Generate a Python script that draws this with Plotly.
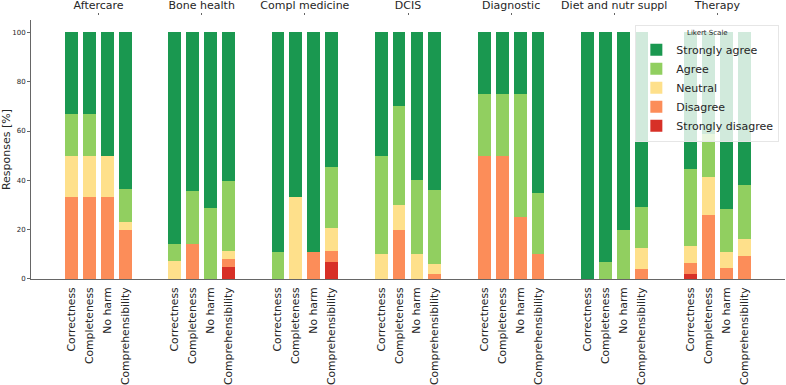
import plotly.graph_objects as go

topics = ["Aftercare", "Bone health", "Compl medicine", "DCIS", "Diagnostic",
          "Diet and nutr suppl", "Therapy"]
criteria = ["Correctness", "Completeness", "No harm", "Comprehensibility"]

# values per topic, each list = [Correctness, Completeness, No harm, Comprehensibility]
strongly_disagree = [
    [0, 0, 0, 0],
    [0, 0, 0, 5.0],
    [0, 0, 0, 6.8],
    [0, 0, 0, 0],
    [0, 0, 0, 0],
    [0, 0, 0, 0],
    [2.2, 0, 0, 0],
]
disagree = [
    [33.3, 33.3, 33.3, 20.0],
    [0, 14.3, 0, 3.2],
    [0, 0, 11.1, 4.6],
    [0, 20.0, 0, 2.0],
    [50.0, 50.0, 25.0, 10.0],
    [0, 0, 0, 4.2],
    [4.4, 26.1, 4.6, 9.2],
]
neutral = [
    [16.7, 16.7, 16.7, 3.3],
    [7.1, 0, 0, 3.0],
    [0, 33.3, 0, 9.1],
    [10.0, 10.0, 10.0, 4.0],
    [0, 0, 0, 0],
    [0, 0, 0, 8.3],
    [6.7, 15.2, 6.2, 7.0],
]
agree = [
    [16.7, 16.7, 0, 13.3],
    [7.1, 21.4, 28.6, 28.6],
    [11.1, 0, 0, 25.0],
    [40.0, 40.0, 30.0, 30.0],
    [25.0, 25.0, 50.0, 25.0],
    [0, 6.7, 20.0, 16.7],
    [31.1, 17.4, 17.6, 22.0],
]
strongly_agree = [
    [33.3, 33.3, 50.0, 63.4],
    [85.8, 64.3, 71.4, 60.2],
    [88.9, 66.7, 88.9, 54.5],
    [50.0, 30.0, 60.0, 64.0],
    [25.0, 25.0, 25.0, 65.0],
    [100.0, 93.3, 80.0, 70.8],
    [55.6, 41.3, 71.6, 61.8],
]

levels = ["Strongly disagree", "Disagree", "Neutral", "Agree", "Strongly agree"]
level_values = [strongly_disagree, disagree, neutral, agree, strongly_agree]
colors = ["#d73027", "#fc8d59", "#fee08b", "#91cf60", "#1a9850"]

GROUP_STEP = 5.75
xs, xlabels = [], []
for g, t in enumerate(topics):
    for k, c in enumerate(criteria):
        xs.append(g * GROUP_STEP + k)
        xlabels.append(c)
group_centers = [g * GROUP_STEP + 1.5 for g in range(len(topics))]

FONT = "DejaVu Sans"
TXT = "#262626"
fig = go.Figure()
for name, vals, col in zip(levels, level_values, colors):
    flat = [v for row in vals for v in row]
    fig.add_trace(go.Bar(x=xs, y=flat, name=name, marker=dict(color=col, line=dict(width=0)),
                         width=0.72))

# invisible trace for top axis
fig.add_trace(go.Scatter(x=group_centers, y=[0]*len(group_centers), xaxis="x2",
                         mode="markers", marker=dict(opacity=0), showlegend=False,
                         hoverinfo="skip"))

xmin = -2.27
xmax = (len(topics) - 1) * GROUP_STEP + 3 + 2.27
fig.update_layout(
    width=786, height=385,
    barmode="stack",
    bargap=0,
    plot_bgcolor="white", paper_bgcolor="white",
    margin=dict(l=31, r=1, t=15, b=106, autoexpand=False),
    font=dict(family=FONT, color=TXT),
    xaxis=dict(range=[xmin, xmax], tickmode="array", tickvals=xs, ticktext=xlabels,
               tickangle=-90, tickfont=dict(size=10.8, family=FONT, color=TXT),
               showline=True, linecolor="#666", linewidth=1,
               ticks="outside", ticklen=3, tickcolor="rgba(0,0,0,0)",
               showgrid=False, zeroline=False, automargin=False),
    xaxis2=dict(range=[xmin, xmax], overlaying="x", side="top", anchor="free", position=1,
                tickmode="array", tickvals=group_centers, ticktext=topics,
                tickfont=dict(size=11, family=FONT, color=TXT),
                ticks="outside", ticklen=2, tickcolor="#666", showline=False,
                showgrid=False, zeroline=False, automargin=False),
    yaxis=dict(range=[0, 105], domain=[0, 0.981], tickmode="array",
               tickvals=[0, 20, 40, 60, 80, 100], ticktext=["0", "20", "40", "60", "80", "100"],
               tickfont=dict(size=7, family=FONT, color=TXT),
               ticks="outside", ticklen=3, tickcolor="#666",
               showline=True, linecolor="#666", linewidth=1, showgrid=False, zeroline=False,
               automargin=False,
               title=dict(text="Responses [%]", font=dict(size=11, family=FONT, color=TXT),
                          standoff=2)),
    legend=dict(x=0.9925, xanchor="right", y=0.962, yanchor="top",
                traceorder="reversed",
                bgcolor="rgba(255,255,255,0.8)", bordercolor="#e6e6e6", borderwidth=1,
                font=dict(size=11, family=FONT, color=TXT),
                title=dict(text="Likert Scale", side="top center",
                           font=dict(size=7, family=FONT, color=TXT)),
                itemwidth=30, tracegroupgap=0),
    showlegend=True,
)

fig.write_html("out.html", config={"displayModeBar": False},
               post_script="document.body.style.margin='0';document.body.style.overflow='hidden';")
